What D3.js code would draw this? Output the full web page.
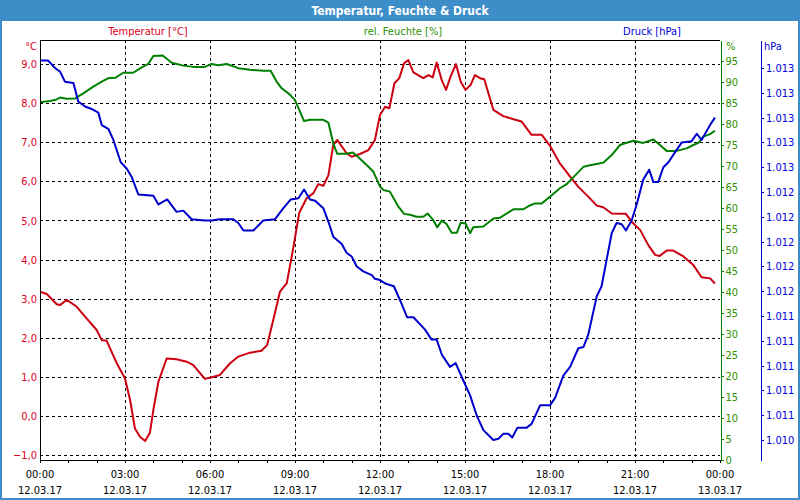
<!DOCTYPE html>
<html><head><meta charset="utf-8">
<script src="https://cdn.jsdelivr.net/npm/d3@7"></script>
<style>
body{margin:0;background:#fff}
svg{display:block}
text{font-family:'DejaVu Sans Condensed','DejaVu Sans',sans-serif;font-size:11px}
</style></head>
<body><svg id="c" width="800" height="500"></svg>
<script>
// ---- data (hour of day, value) ----
const temperature = [[0,3.18],[0.24,3.12],[0.59,2.86],[0.71,2.84],[0.94,2.97],[1.29,2.80],[1.59,2.54],[2.0,2.20],[2.18,1.94],[2.35,1.93],[2.71,1.35],[3.0,0.96],[3.18,0.41],[3.35,-0.32],[3.53,-0.53],[3.71,-0.64],[3.88,-0.43],[4.0,0.15],[4.18,0.88],[4.47,1.47],[4.82,1.45],[5.18,1.39],[5.41,1.30],[5.82,0.95],[6.06,0.99],[6.35,1.05],[6.71,1.35],[7.0,1.52],[7.41,1.62],[7.82,1.67],[8.02,1.82],[8.29,2.63],[8.47,3.18],[8.71,3.40],[8.94,4.30],[9.15,5.20],[9.41,5.57],[9.65,5.70],[9.82,5.93],[10.0,5.89],[10.18,6.16],[10.35,6.93],[10.49,7.06],[10.82,6.72],[11.0,6.63],[11.29,6.70],[11.59,6.80],[11.82,7.06],[12.0,7.70],[12.18,7.91],[12.33,7.87],[12.51,8.51],[12.68,8.64],[12.85,9.02],[13.0,9.10],[13.18,8.79],[13.53,8.64],[13.71,8.72],[13.86,8.66],[14.0,9.04],[14.18,8.59],[14.33,8.34],[14.49,8.68],[14.68,9.00],[14.85,8.55],[15.02,8.34],[15.2,8.47],[15.35,8.72],[15.53,8.64],[15.68,8.61],[16.0,7.83],[16.35,7.67],[16.71,7.59],[17.0,7.53],[17.35,7.19],[17.71,7.19],[18.0,6.91],[18.35,6.46],[18.71,6.12],[19.0,5.86],[19.35,5.61],[19.65,5.38],[19.88,5.34],[20.18,5.18],[20.47,5.17],[20.68,5.17],[20.88,4.97],[21.18,4.76],[21.47,4.37],[21.71,4.12],[21.86,4.09],[22.12,4.23],[22.35,4.23],[22.71,4.08],[23.06,3.86],[23.35,3.55],[23.65,3.52],[23.82,3.39]];
const humidity = [[0,85.2],[0.35,85.5],[0.53,85.7],[0.71,86.3],[0.94,86.0],[1.24,86.1],[1.53,87.3],[1.88,88.9],[2.18,90.1],[2.41,90.9],[2.65,91.0],[2.94,92.2],[3.29,92.2],[3.59,93.5],[3.82,94.3],[4.0,96.2],[4.33,96.3],[4.65,94.6],[5.06,93.9],[5.41,93.6],[5.82,93.6],[6.06,94.3],[6.29,94.0],[6.59,94.3],[7.0,93.3],[7.41,92.9],[7.88,92.7],[8.14,92.7],[8.35,90.1],[8.53,88.5],[8.82,87.0],[9.0,85.7],[9.18,82.9],[9.32,80.7],[9.53,81.0],[10.0,81.0],[10.18,80.3],[10.35,75.4],[10.49,72.9],[10.82,72.9],[11.04,73.2],[11.24,72.1],[11.59,69.8],[11.76,68.7],[12.0,65.1],[12.12,64.3],[12.35,63.9],[12.65,60.3],[12.85,58.6],[13.06,58.4],[13.29,57.9],[13.53,57.9],[13.68,58.7],[13.88,57.1],[14.02,55.4],[14.18,57.0],[14.35,56.2],[14.53,54.1],[14.71,54.1],[14.85,56.5],[15.02,56.3],[15.18,54.0],[15.29,55.4],[15.65,55.6],[16.0,57.5],[16.24,57.7],[16.71,59.7],[17.06,59.7],[17.29,60.6],[17.47,61.1],[17.71,61.1],[18.0,62.7],[18.35,64.7],[18.59,65.7],[18.82,67.3],[19.18,69.8],[19.41,70.2],[19.65,70.5],[19.88,70.8],[20.18,72.6],[20.47,75.0],[20.65,75.4],[20.94,76.0],[21.29,75.5],[21.65,76.3],[21.88,75.0],[22.12,73.6],[22.47,73.6],[22.82,74.2],[23.06,75.0],[23.24,75.5],[23.41,77.0],[23.65,77.6],[23.82,78.4]];
const pressure = [[0,1013.46],[0.29,1013.46],[0.53,1013.40],[0.71,1013.37],[0.88,1013.29],[1.18,1013.28],[1.35,1013.13],[1.59,1013.09],[1.82,1013.07],[2.06,1013.04],[2.18,1012.94],[2.41,1012.91],[2.59,1012.82],[2.85,1012.64],[3.06,1012.59],[3.24,1012.52],[3.47,1012.38],[4.0,1012.37],[4.18,1012.30],[4.49,1012.34],[4.82,1012.24],[5.06,1012.25],[5.35,1012.18],[5.82,1012.17],[6.06,1012.17],[6.35,1012.18],[6.82,1012.18],[7.0,1012.15],[7.18,1012.09],[7.53,1012.09],[7.88,1012.17],[8.29,1012.18],[8.59,1012.27],[8.85,1012.34],[9.12,1012.35],[9.32,1012.42],[9.53,1012.34],[9.71,1012.33],[10.0,1012.27],[10.18,1012.16],[10.35,1012.04],[10.65,1011.98],[10.82,1011.91],[11.0,1011.88],[11.18,1011.80],[11.41,1011.76],[11.71,1011.73],[11.82,1011.70],[12.0,1011.69],[12.21,1011.66],[12.49,1011.64],[12.76,1011.50],[12.96,1011.39],[13.18,1011.39],[13.59,1011.29],[13.82,1011.21],[14.0,1011.21],[14.18,1011.09],[14.47,1010.99],[14.67,1011.02],[14.94,1010.88],[15.18,1010.76],[15.41,1010.60],[15.65,1010.48],[16.0,1010.40],[16.18,1010.41],[16.35,1010.45],[16.53,1010.45],[16.67,1010.42],[16.85,1010.50],[17.18,1010.50],[17.35,1010.53],[17.65,1010.68],[18.0,1010.68],[18.18,1010.74],[18.47,1010.92],[18.71,1010.99],[19.0,1011.14],[19.18,1011.15],[19.35,1011.25],[19.65,1011.56],[19.82,1011.64],[20.02,1011.88],[20.18,1012.07],[20.35,1012.15],[20.53,1012.14],[20.68,1012.09],[20.88,1012.17],[21.06,1012.30],[21.29,1012.50],[21.5,1012.58],[21.65,1012.48],[21.82,1012.48],[22.0,1012.60],[22.18,1012.64],[22.41,1012.72],[22.65,1012.80],[23.0,1012.81],[23.18,1012.87],[23.35,1012.82],[23.65,1012.94],[23.82,1013.00]];

const tempTicks = [-1,0,1,2,3,4,5,6,7,8,9];
const humTicks = [0,5,10,15,20,25,30,35,40,45,50,55,60,65,70,75,80,85,90,95];
const pressTicks = [1010.4,1010.6,1010.8,1011.0,1011.2,1011.4,1011.6,1011.8,1012.0,1012.2,1012.4,1012.6,1012.8,1013.0,1013.2,1013.4];
const hourTicks = [0,1,2,3,4,5,6,7,8,9,10,11,12,13,14,15,16,17,18,19,20,21,22,23,24];
const labelHours = [0,3,6,9,12,15,18,21,24];
const timeLabels = ["00:00","03:00","06:00","09:00","12:00","15:00","18:00","21:00","00:00"];
const dateLabels = ["12.03.17","12.03.17","12.03.17","12.03.17","12.03.17","12.03.17","12.03.17","12.03.17","13.03.17"];
const title = "Temperatur, Feuchte & Druck";
const seriesNames = ["Temperatur [°C]","rel. Feuchte [%]","Druck [hPa]"];

// ---- layout ----
const W=800,H=500, L=40, R=720, T=40, B=460;
const cT="#cc0010", cTt="#dd0022", cH="#008000", cHt="#2f8f00", cP="#0000cc", cPt="#0000dd", frame="#3d8ec8";

const svg=d3.select("#c");
svg.append("rect").attr("width",W).attr("height",H).attr("fill",frame);
svg.append("rect").attr("x",2).attr("y",21).attr("width",W-4).attr("height",H-23).attr("fill","#fff");
svg.append("text").attr("x",W/2).attr("y",14.5).attr("text-anchor","middle")
  .attr("fill","#fff").attr("font-weight","bold").style("font-size","12px").text(title);

const x=d3.scaleLinear().domain([0,24]).range([L,R]);
const yT=d3.scaleLinear().domain([-1.125,9.616]).range([B,T]);
const yH=d3.scaleLinear().domain([0,100]).range([B,T]);
const yP=d3.scaleLinear().domain([1010.239,1013.626]).range([B,T]);

const de=d3.formatLocale({decimal:",",thousands:".",grouping:[3],currency:["","€"]});
const fT=de.format(".1f"), fP=de.format(",.0f");

// grid
const grid=svg.append("g").attr("stroke","#000").attr("stroke-dasharray","3,3").attr("shape-rendering","crispEdges");
grid.selectAll("line.h").data(tempTicks).join("line").attr("class","h")
  .attr("x1",L).attr("x2",R).attr("y1",d=>Math.round(yT(d))+0.5).attr("y2",d=>Math.round(yT(d))+0.5);
grid.selectAll("line.v").data(labelHours.slice(1,-1)).join("line").attr("class","v")
  .attr("x1",d=>Math.round(x(d))+0.5).attr("x2",d=>Math.round(x(d))+0.5).attr("y1",T).attr("y2",B);

// series lines
const clip=svg.append("clipPath").attr("id","pc").append("rect").attr("x",L).attr("y",T).attr("width",R-L).attr("height",B-T);
const lines=svg.append("g").attr("clip-path","url(#pc)").attr("fill","none").attr("stroke-width",2).attr("stroke-linejoin","round");
lines.append("path").datum(temperature).attr("stroke",cT).attr("d",d3.line().x(d=>x(d[0])).y(d=>yT(d[1])));
lines.append("path").datum(humidity).attr("stroke",cH).attr("d",d3.line().x(d=>x(d[0])).y(d=>yH(d[1])));
lines.append("path").datum(pressure).attr("stroke",cP).attr("d",d3.line().x(d=>x(d[0])).y(d=>yP(d[1])));

// frame lines
svg.append("line").attr("x1",L).attr("x2",R).attr("y1",T+0.5).attr("y2",T+0.5).attr("stroke","#000");
svg.append("line").attr("x1",L+0.5).attr("x2",L+0.5).attr("y1",T).attr("y2",B+1).attr("stroke","#000");

// left axis labels
const ax1=svg.append("g").attr("transform",`translate(${L},0)`)
  .call(d3.axisLeft(yT).tickValues(tempTicks).tickSize(0).tickPadding(3).tickFormat(fT));
ax1.select(".domain").remove();
ax1.selectAll("text").attr("fill",cTt).style("font-size","11px").style("font-family","'DejaVu Sans Condensed','DejaVu Sans',sans-serif");
svg.append("text").attr("x",37).attr("y",50).attr("text-anchor","end").attr("fill",cTt).text("°C");

// bottom axis
const ax2=svg.append("g").attr("transform",`translate(0,${B})`)
  .call(d3.axisBottom(x).tickValues(hourTicks).tickSize(3).tickSizeOuter(0).tickFormat(""));
ax2.selectAll("line,path").attr("stroke","#000").attr("shape-rendering","crispEdges");
const xl=svg.append("g").attr("text-anchor","middle").attr("fill","#000");
xl.selectAll("text.t").data(labelHours).join("text").attr("class","t").attr("x",d=>x(d)).attr("y",478).text((d,i)=>timeLabels[i]);
xl.selectAll("text.d").data(labelHours).join("text").attr("class","d").attr("x",d=>x(d)).attr("y",494).text((d,i)=>dateLabels[i]);

// humidity axis
const ax3=svg.append("g").attr("transform",`translate(${R+0.5},0)`)
  .call(d3.axisRight(yH).tickValues(humTicks).tickSize(3).tickSizeOuter(0).tickPadding(2).tickFormat(d3.format("d")));
ax3.selectAll("line,path").attr("stroke",cH).attr("shape-rendering","crispEdges");
ax3.selectAll("text").attr("fill",cHt).style("font-size","11px").style("font-family","'DejaVu Sans Condensed','DejaVu Sans',sans-serif");
svg.append("text").attr("x",726).attr("y",50).attr("fill",cHt).text("%");

// pressure axis
const ax4=svg.append("g").attr("transform",`translate(761,0)`)
  .call(d3.axisRight(yP).tickValues(pressTicks).tickSize(3).tickSizeOuter(0).tickPadding(2).tickFormat(fP));
ax4.selectAll("line,path").attr("stroke",cP).attr("shape-rendering","crispEdges");
ax4.selectAll("text").attr("fill",cPt).style("font-size","11px").style("font-family","'DejaVu Sans Condensed','DejaVu Sans',sans-serif");
svg.append("text").attr("x",764).attr("y",50).attr("fill",cPt).text("hPa");

// series titles
const st=svg.append("g").attr("text-anchor","middle");
st.append("text").attr("x",148).attr("y",35).attr("fill",cTt).text(seriesNames[0]);
st.append("text").attr("x",403).attr("y",35).attr("fill",cHt).text(seriesNames[1]);
st.append("text").attr("x",652).attr("y",35).attr("fill",cPt).text(seriesNames[2]);
</script></body></html>
